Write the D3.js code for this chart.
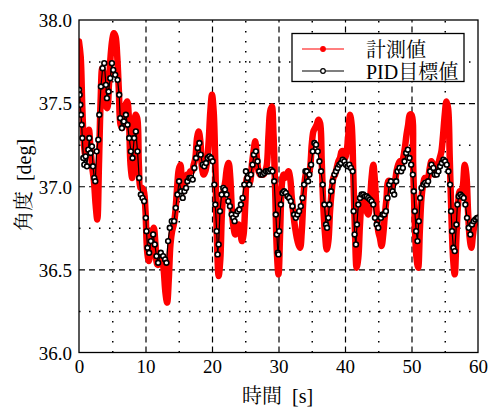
<!DOCTYPE html>
<html>
<head>
<meta charset="utf-8">
<script src="https://cdn.jsdelivr.net/npm/d3@7"></script>
<style>
    body { margin: 0; background: #fff; }
    svg { display: block; }
</style>
</head>
<body>
<svg id="chart" width="494" height="409"></svg>
<script>

// measured angle (red), sampled every 0.25 s
let measuredTime = [
    0, 0.25, 0.5, 0.75, 1, 1.25, 1.5, 1.75, 2, 2.25, 2.5, 2.75, 3, 3.25, 3.5, 3.75, 4, 4.25, 4.5, 4.75,
    5, 5.25, 5.5, 5.75, 6, 6.25, 6.5, 6.75, 7, 7.25, 7.5, 7.75, 8, 8.25, 8.5, 8.75, 9, 9.25, 9.5, 9.75,
    10, 10.25, 10.5, 10.75, 11, 11.25, 11.5, 11.75, 12, 12.25, 12.5, 12.75, 13, 13.25, 13.5, 13.75, 14, 14.25, 14.5, 14.75,
    15, 15.25, 15.5, 15.75, 16, 16.25, 16.5, 16.75, 17, 17.25, 17.5, 17.75, 18, 18.25, 18.5, 18.75, 19, 19.25, 19.5, 19.75,
    20, 20.25, 20.5, 20.75, 21, 21.25, 21.5, 21.75, 22, 22.25, 22.5, 22.75, 23, 23.25, 23.5, 23.75, 24, 24.25, 24.5, 24.75,
    25, 25.25, 25.5, 25.75, 26, 26.25, 26.5, 26.75, 27, 27.25, 27.5, 27.75, 28, 28.25, 28.5, 28.75, 29, 29.25, 29.5, 29.75,
    30, 30.25, 30.5, 30.75, 31, 31.25, 31.5, 31.75, 32, 32.25, 32.5, 32.75, 33, 33.25, 33.5, 33.75, 34, 34.25, 34.5, 34.75,
    35, 35.25, 35.5, 35.75, 36, 36.25, 36.5, 36.75, 37, 37.25, 37.5, 37.75, 38, 38.25, 38.5, 38.75, 39, 39.25, 39.5, 39.75,
    40, 40.25, 40.5, 40.75, 41, 41.25, 41.5, 41.75, 42, 42.25, 42.5, 42.75, 43, 43.25, 43.5, 43.75, 44, 44.25, 44.5, 44.75,
    45, 45.25, 45.5, 45.75, 46, 46.25, 46.5, 46.75, 47, 47.25, 47.5, 47.75, 48, 48.25, 48.5, 48.75, 49, 49.25, 49.5, 49.75,
    50, 50.25, 50.5, 50.75, 51, 51.25, 51.5, 51.75, 52, 52.25, 52.5, 52.75, 53, 53.25, 53.5, 53.75, 54, 54.25, 54.5, 54.75,
    55, 55.25, 55.5, 55.75, 56, 56.25, 56.5, 56.75, 57, 57.25, 57.5, 57.75, 58, 58.25, 58.5, 58.75, 59, 59.25, 59.5, 59.75,
    60
];
let measuredValue = [
    37.87, 37.78, 37.47, 37.25, 37.18, 37.23, 37.34, 37.21, 37.11, 37.03, 36.89, 36.80, 37.13, 37.51, 37.71, 37.67, 37.49, 37.47, 37.61, 37.78,
    37.88, 37.92, 37.90, 37.78, 37.57, 37.37, 37.35, 37.41, 37.49, 37.51, 37.41, 37.13, 37.05, 37.25, 37.43, 37.41, 37.13, 36.99, 36.99, 36.97,
    36.85, 36.61, 36.55, 36.61, 36.71, 36.75, 36.65, 36.53, 36.53, 36.59, 36.57, 36.49, 36.36, 36.30, 36.44, 36.65, 36.73, 36.77, 36.85, 36.99,
    37.10, 37.13, 37.01, 36.97, 37.03, 37.07, 37.07, 37.09, 37.09, 37.13, 37.17, 37.29, 37.33, 37.27, 37.11, 37.07, 37.09, 37.15, 37.27, 37.45,
    37.55, 37.45, 37.13, 36.67, 36.46, 36.56, 36.85, 36.97, 37.03, 37.11, 37.14, 37.05, 36.85, 36.75, 36.71, 36.73, 36.77, 36.73, 36.67, 36.71,
    36.89, 37.05, 37.01, 37.03, 37.13, 37.21, 37.27, 37.17, 37.09, 37.07, 37.07, 37.07, 37.09, 37.13, 37.31, 37.45, 37.48, 37.31, 36.97, 36.61,
    36.47, 36.73, 37.01, 37.07, 37.05, 37.07, 37.09, 37.05, 36.93, 36.83, 36.75, 36.69, 36.65, 36.63, 36.73, 36.93, 37.05, 37.09, 37.07, 37.11,
    37.25, 37.33, 37.35, 37.37, 37.40, 37.38, 37.15, 36.87, 36.71, 36.62, 36.67, 36.85, 36.97, 37.05, 37.07, 37.11, 37.15, 37.17, 37.21, 37.21,
    37.17, 37.21, 37.31, 37.43, 37.37, 37.07, 36.73, 36.51, 36.57, 36.77, 36.89, 36.91, 36.89, 36.85, 36.83, 36.91, 37.05, 37.13, 37.03, 36.85,
    36.73, 36.69, 36.64, 36.71, 36.83, 36.93, 37.03, 37.03, 36.99, 37.01, 37.03, 37.09, 37.13, 37.15, 37.13, 37.17, 37.23, 37.31, 37.37, 37.43,
    37.43, 37.13, 36.77, 36.57, 36.51, 36.73, 36.93, 37.01, 37.05, 37.03, 37.05, 37.11, 37.15, 37.13, 37.07, 37.09, 37.13, 37.17, 37.21, 37.31,
    37.43, 37.51, 37.47, 37.17, 36.83, 36.57, 36.47, 36.69, 36.89, 36.97, 36.95, 37.01, 37.13, 37.07, 36.85, 36.69, 36.63, 36.71, 36.77, 36.79,
    36.81
];

// PID target (black with circle markers)
let pidTime = [
    0, 0.1, 0.2, 0.3, 0.4, 0.5, 0.65, 0.8, 1.0, 1.2, 1.4, 1.55, 1.75, 1.95, 2.1, 2.3, 2.45, 2.65, 2.9, 3.05,
    3.3, 3.55, 3.8, 4.05, 4.2, 4.45, 4.7, 4.95, 5.15, 5.45, 5.8, 6.05, 6.2, 6.45, 6.75, 7.05, 7.3, 7.55, 7.8, 8.05,
    8.3, 8.55, 8.8, 9.05, 9.3, 9.55, 9.8, 10.05, 10.15, 10.3, 10.55, 10.8, 11.15, 11.4, 11.65, 11.9, 12.3, 12.65, 12.95, 13.15,
    13.4, 13.65, 13.95, 14.3, 14.55, 14.8, 15.05, 15.35, 15.6, 15.85, 16.1, 16.3, 16.6, 16.85, 17.1, 17.35, 17.6, 17.85, 18.1, 18.3,
    18.6, 18.85, 19.1, 19.35, 19.6, 19.85, 20.1, 20.35, 20.5, 20.7, 20.85, 21.0, 21.2, 21.45, 21.7, 21.95, 22.2, 22.45, 22.7, 22.95,
    23.2, 23.4, 23.6, 23.85, 24.1, 24.35, 24.6, 24.85, 25.1, 25.35, 25.6, 25.85, 26.1, 26.3, 26.6, 26.85, 27.1, 27.35, 27.6, 27.85,
    28.1, 28.35, 28.6, 28.85, 29.1, 29.35, 29.6, 29.75, 29.9, 30.0, 30.1, 30.35, 30.6, 30.85, 31.1, 31.35, 31.6, 31.85, 32.1, 32.35,
    32.6, 32.85, 33.1, 33.35, 33.6, 33.85, 34.05, 34.25, 34.45, 34.65, 34.9, 35.15, 35.4, 35.65, 35.9, 36.15, 36.4, 36.65, 36.9, 37.15,
    37.3, 37.5, 37.65, 37.9, 38.15, 38.4, 38.65, 38.9, 39.15, 39.4, 39.65, 39.9, 40.15, 40.4, 40.65, 40.9, 41.15, 41.3, 41.45, 41.65,
    41.8, 42.0, 42.25, 42.5, 42.75, 43.0, 43.25, 43.5, 43.75, 44.0, 44.25, 44.5, 44.75, 45.0, 45.4, 45.65, 45.9, 46.15, 46.4, 46.65,
    46.9, 47.15, 47.4, 47.7, 47.9, 48.2, 48.45, 48.7, 48.95, 49.2, 49.45, 49.7, 49.95, 50.2, 50.35, 50.5, 50.7, 50.9, 51.1, 51.3,
    51.5, 51.8, 52.05, 52.3, 52.5, 52.8, 53.0, 53.3, 53.5, 53.8, 54.05, 54.3, 54.55, 54.8, 55.05, 55.3, 55.55, 55.8, 55.95, 56.1,
    56.3, 56.5, 56.75, 56.9, 57.1, 57.35, 57.6, 57.85, 58.1, 58.35, 58.6, 58.85, 59.1, 59.35, 59.6, 59.85, 60.0
];
let pidValue = [
    37.58, 37.55, 37.49, 37.43, 37.37, 37.29, 37.17, 37.13, 37.18, 37.12, 37.22, 37.29, 37.20, 37.24, 37.12, 37.05, 37.03, 37.21, 37.28, 37.43,
    37.60, 37.71, 37.74, 37.61, 37.53, 37.57, 37.65, 37.74, 37.70, 37.67, 37.64, 37.55, 37.41, 37.35, 37.39, 37.43, 37.37, 37.29, 37.21, 37.17,
    37.29, 37.33, 37.21, 37.05, 36.95, 36.93, 36.91, 36.81, 36.73, 36.63, 36.60, 36.67, 36.71, 36.65, 36.58, 36.54, 36.60, 36.58, 36.56, 36.54,
    36.67, 36.75, 36.79, 36.79, 36.87, 36.95, 37.03, 36.97, 36.93, 36.97, 36.99, 37.03, 37.05, 37.05, 37.04, 37.11, 37.17, 37.23, 37.26, 37.19,
    37.13, 37.12, 37.14, 37.17, 37.18, 37.17, 37.15, 37.01, 36.89, 36.73, 36.59, 36.65, 36.85, 36.95, 36.99, 36.98, 36.95, 36.91, 36.88, 36.83,
    36.81, 36.79, 36.83, 36.85, 36.86, 36.89, 36.93, 37.01, 37.09, 37.05, 37.01, 37.07, 37.13, 37.19, 37.21, 37.15, 37.09, 37.07, 37.07, 37.08,
    37.09, 37.09, 37.09, 37.10, 37.09, 37.03, 36.83, 36.71, 36.60, 36.59, 36.73, 36.89, 36.96, 36.97, 36.96, 36.94, 36.93, 36.91, 36.88, 36.83,
    36.81, 36.83, 36.85, 36.88, 36.93, 37.01, 37.09, 37.09, 37.03, 37.07, 37.13, 37.21, 37.26, 37.25, 37.21, 37.15, 37.09, 37.01, 36.89, 36.77,
    36.75, 36.81, 36.89, 36.97, 37.03, 37.07, 37.09, 37.11, 37.13, 37.14, 37.16, 37.15, 37.13, 37.12, 37.13, 37.11, 37.09, 36.85, 36.71, 36.65,
    36.77, 36.89, 36.93, 36.95, 36.95, 36.94, 36.94, 36.93, 36.92, 36.91, 36.89, 36.81, 36.77, 36.75, 36.81, 36.83, 36.83, 36.85, 36.93, 37.01,
    37.03, 36.97, 36.95, 37.03, 37.09, 37.11, 37.09, 37.11, 37.15, 37.20, 37.22, 37.17, 37.13, 37.07, 36.97, 36.85, 36.73, 36.67, 36.79, 36.93,
    36.99, 37.01, 37.02, 37.01, 37.03, 37.09, 37.13, 37.11, 37.07, 37.07, 37.09, 37.12, 37.14, 37.16, 37.15, 37.13, 37.09, 37.01, 36.85, 36.73,
    36.63, 36.61, 36.77, 36.89, 36.94, 36.95, 36.94, 36.93, 36.89, 36.81, 36.75, 36.71, 36.77, 36.79, 36.80, 36.81, 36.81
];

// axis ticks and grid positions
let xTicks = [0, 10, 20, 30, 40, 50, 60];
let yTicks = [36.0, 36.5, 37.0, 37.5, 38.0];
let xMajorGrid = [10, 20, 30, 40, 50];
let xMinorGrid = [5, 15, 25, 35, 45, 55];
let yMajorGrid = [36.5, 37.0, 37.5];
let yMinorGrid = [36.25, 36.75, 37.25, 37.75];

let seriesNames = ["計測値", "PID目標値"];

// latin from Liberation Serif, kanji from the mincho-style CJK face
let serifFont = "'Liberation Serif', 'Noto Serif CJK JP'";


let plotLeft = 79, plotRight = 478, plotTop = 20, plotBottom = 352.5;

let svg = d3.select("#chart");

let x = d3.scaleLinear().domain([0, 60]).range([plotLeft, plotRight]);
let y = d3.scaleLinear().domain([36, 38]).range([plotBottom, plotTop]);

svg.append("rect")
    .attr("width", 494)
    .attr("height", 409)
    .attr("fill", "white");


// GRID LINES
function gridX(values, dash, width) {
    let g = svg.append("g")
        .attr("transform", `translate(0,${plotBottom})`)
        .call(d3.axisBottom(x).tickValues(values).tickSize(-(plotBottom - plotTop)).tickFormat(""));
    g.select(".domain").remove();
    g.selectAll("line")
        .attr("stroke", "#000")
        .attr("stroke-width", width)
        .attr("stroke-dasharray", dash);
}

function gridY(values, dash, width) {
    let g = svg.append("g")
        .attr("transform", `translate(${plotLeft},0)`)
        .call(d3.axisLeft(y).tickValues(values).tickSize(-(plotRight - plotLeft)).tickFormat(""));
    g.select(".domain").remove();
    g.selectAll("line")
        .attr("stroke", "#000")
        .attr("stroke-width", width)
        .attr("stroke-dasharray", dash);
}

gridX(xMinorGrid, "1.5,8.5", 1.5);
gridY(yMinorGrid, "1.5,8.5", 1.5);
gridX(xMajorGrid, "6,4", 1.2);
gridY(yMajorGrid, "6,4", 1.2);


// DATA
svg.append("clipPath")
    .attr("id", "plotClip")
    .append("rect")
    .attr("x", plotLeft)
    .attr("y", plotTop)
    .attr("width", plotRight - plotLeft)
    .attr("height", plotBottom - plotTop);

let plot = svg.append("g").attr("clip-path", "url(#plotClip)");

let measured = measuredTime.map((t, i) => ({ t: t, v: measuredValue[i] }));
let pid = pidTime.map((t, i) => ({ t: t, v: pidValue[i] }));

plot.append("path")
    .datum(measured)
    .attr("fill", "none")
    .attr("stroke", "#ff0000")
    .attr("stroke-width", 6.5)
    .attr("stroke-linejoin", "round")
    .attr("stroke-linecap", "round")
    .attr("d", d3.line().x(d => x(d.t)).y(d => y(d.v)).curve(d3.curveCatmullRom));

plot.append("path")
    .datum(pid)
    .attr("fill", "none")
    .attr("stroke", "#000")
    .attr("stroke-width", 1.2)
    .attr("d", d3.line().x(d => x(d.t)).y(d => y(d.v)));

plot.selectAll(".pid-marker")
    .data(pid)
    .enter()
    .append("circle")
    .attr("class", "pid-marker")
    .attr("cx", d => x(d.t))
    .attr("cy", d => y(d.v))
    .attr("r", 2.4)
    .attr("fill", "white")
    .attr("stroke", "#000")
    .attr("stroke-width", 1.6);


// AXES FRAME
svg.append("rect")
    .attr("x", plotLeft)
    .attr("y", plotTop)
    .attr("width", plotRight - plotLeft)
    .attr("height", plotBottom - plotTop)
    .attr("fill", "none")
    .attr("stroke", "#000")
    .attr("stroke-width", 1.3);


// TICK LABELS
let xAxis = svg.append("g")
    .attr("transform", `translate(0,${plotBottom})`)
    .call(d3.axisBottom(x).tickValues(xTicks).tickSize(0).tickFormat(d3.format("d")));
xAxis.select(".domain").remove();
xAxis.selectAll("text")
    .attr("y", 20.5)
    .attr("dy", 0)
    .attr("fill", "#000")
    .style("font-family", serifFont)
    .style("font-size", "19px");

let yAxis = svg.append("g")
    .attr("transform", `translate(${plotLeft},0)`)
    .call(d3.axisLeft(y).tickValues(yTicks).tickSize(0).tickPadding(7).tickFormat(d3.format(".1f")));
yAxis.select(".domain").remove();
yAxis.selectAll("text")
    .attr("dy", "0.36em")
    .attr("fill", "#000")
    .style("font-family", serifFont)
    .style("font-size", "19px");


// AXIS TITLES
svg.append("text")
    .attr("x", 242)
    .attr("y", 403)
    .style("font-family", serifFont)
    .style("font-size", "20px")
    .text("時間\u2002[s]");

svg.append("text")
    .attr("transform", "translate(31,185) rotate(-90)")
    .attr("text-anchor", "middle")
    .style("font-family", serifFont)
    .style("font-size", "20px")
    .text("角度\u2002[deg]");


// LEGEND
let legend = svg.append("g");

legend.append("rect")
    .attr("x", 292)
    .attr("y", 33.5)
    .attr("width", 172)
    .attr("height", 48)
    .attr("fill", "white")
    .attr("stroke", "#000")
    .attr("stroke-width", 1.3);

let legendRows = [
    { name: seriesNames[0], y: 49, color: "#ff0000", fill: "#ff0000" },
    { name: seriesNames[1], y: 71, color: "#000", fill: "white" }
];

let rows = legend.selectAll(".legend-row")
    .data(legendRows)
    .enter()
    .append("g")
    .attr("class", "legend-row");

rows.append("line")
    .attr("x1", 302)
    .attr("x2", 344)
    .attr("y1", d => d.y)
    .attr("y2", d => d.y)
    .attr("stroke", d => d.color)
    .attr("stroke-width", 1.2);

rows.append("circle")
    .attr("cx", 323)
    .attr("cy", d => d.y)
    .attr("r", 2.3)
    .attr("fill", d => d.fill)
    .attr("stroke", d => d.color)
    .attr("stroke-width", 1.2);

rows.append("text")
    .attr("x", 366)
    .attr("y", d => d.y + 7.5)
    .style("font-family", serifFont)
    .style("font-size", "20px")
    .text(d => d.name);

</script>
</body>
</html>
